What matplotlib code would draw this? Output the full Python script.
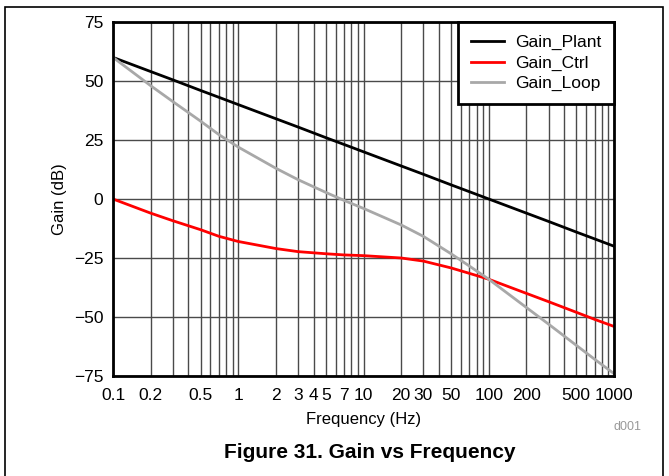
import matplotlib
matplotlib.use("Agg")
import matplotlib.pyplot as plt
from matplotlib.patches import Rectangle

plt.rcParams['font.family'] = ['Liberation Sans', 'DejaVu Sans']

# data
freq = [0.1, 0.2, 0.3, 0.5, 0.7, 1, 2, 3, 5, 7, 10, 20, 30, 50, 70, 100, 200, 300, 500, 700, 1000]
gain_plant = [60, 54, 50.5, 46, 43.1, 40, 34, 30.5, 26, 23.1, 20, 14, 10.5, 6, 3.1, 0, -6, -9.5, -14, -16.9, -20]
gain_ctrl = [0, -6, -9.2, -13, -15.8, -18, -21, -22.3, -23.2, -23.7, -24, -25, -26.3, -29.2, -31.5, -34, -40, -43.5, -48, -51, -54]
gain_loop = [60, 48, 41.3, 33, 27.3, 22, 13, 8.2, 2.8, -0.6, -4, -11, -15.8, -23.2, -28.4, -34, -46, -53, -62, -67.9, -74]

xticks = [0.1, 0.2, 0.5, 1, 2, 3, 4, 5, 7, 10, 20, 30, 50, 100, 200, 500, 1000]
xticklabels = ["0.1", "0.2", "0.5", "1", "2", "3", "4", "5", "7", "10", "20", "30", "50", "100", "200", "500", "1000"]
yticks = [-75, -50, -25, 0, 25, 50, 75]

fig = plt.figure(figsize=(6.69, 4.76), dpi=100)
ax = fig.add_axes([113 / 669, 1 - 376 / 476, 501 / 669, 354 / 476])

ax.plot(freq, gain_plant, color="black", lw=2, label="Gain_Plant")
ax.plot(freq, gain_ctrl, color="#ff0000", lw=2, label="Gain_Ctrl")
ax.plot(freq, gain_loop, color="#a8a8a8", lw=2, label="Gain_Loop")

ax.set_xscale("log")
ax.set_xlim(0.1, 1000)
ax.set_ylim(-75, 75)
ax.set_xticks(xticks)
ax.set_xticklabels(xticklabels)
ax.xaxis.set_minor_locator(matplotlib.ticker.LogLocator(base=10, subs=range(1, 10), numticks=20))
ax.xaxis.set_minor_formatter(matplotlib.ticker.NullFormatter())
ax.set_yticks(yticks)
ax.tick_params(axis="both", which="both", length=0, labelsize=12.5)
ax.tick_params(axis="x", pad=9)
ax.tick_params(axis="y", pad=7)
ax.grid(True, which="both", axis="x", color="#4a4a4a", lw=1)
ax.grid(True, which="major", axis="y", color="#4a4a4a", lw=1)
ax.set_axisbelow(True)
for s in ax.spines.values():
    s.set_linewidth(2)

ax.set_xlabel("Frequency (Hz)", fontsize=12, labelpad=6)
ax.set_ylabel("Gain (dB)", fontsize=12, labelpad=5)

leg = ax.legend(loc="upper right", fontsize=12.5, fancybox=False, framealpha=1,
                borderaxespad=0, handlelength=1.9, handletextpad=0.6,
                labelspacing=0.3, borderpad=0.75)
leg.get_frame().set_edgecolor("black")
leg.get_frame().set_linewidth(2)

fig.text(628 / 669, 1 - 427 / 476, "d001", fontsize=9, color="#999999", ha="center", va="center")
fig.text(370 / 669, 1 - 452 / 476, "Figure 31. Gain vs Frequency", fontsize=15,
         fontweight="bold", ha="center", va="center")
fig.patches.append(Rectangle((5 / 669, -0.01), 658 / 669, 1 - 7 / 476 + 0.01,
                             transform=fig.transFigure, fill=False, ec="black", lw=1.2))

plt.savefig("out.png", dpi=100)
